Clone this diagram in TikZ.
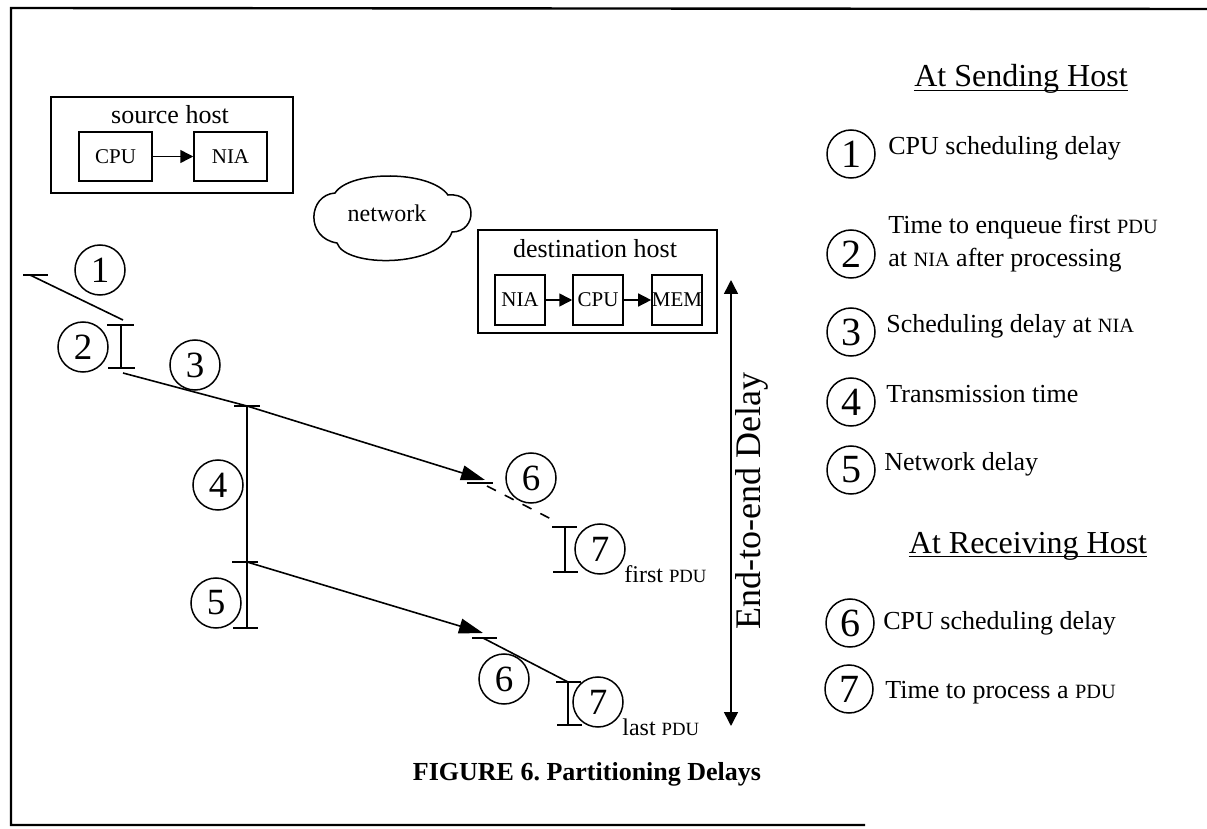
\documentclass[tikz,border=0pt]{standalone}
\usepackage{fontspec}
\setmainfont{Liberation Serif}
\usetikzlibrary{arrows.meta}
\newcommand\smc[1]{\scalebox{0.78}{#1}}
\frenchspacing
\begin{document}
\begin{tikzpicture}[x=0.5pt,y=-0.5pt,
  txt/.style={inner sep=0pt, anchor=base},
  hostbox/.style={draw, line width=0.75pt, inner sep=0pt},
  unit/.style={draw, line width=0.75pt, inner sep=0pt, font=\fontsize{10.5}{12}\selectfont},
  dnum/.style={circle, draw, line width=0.75pt, minimum size=25pt, inner sep=0pt, font=\fontsize{18.5}{20}\selectfont},
  lnum/.style={circle, draw, line width=0.75pt, minimum size=24pt, inner sep=0pt, font=\fontsize{20}{22}\selectfont},
  ltxt/.style={inner sep=0pt, anchor=base west, font=\fontsize{13}{15.5}\selectfont},
  hdr/.style={inner sep=0pt, anchor=base, font=\fontsize{16}{18}\selectfont},
  tl/.style={line width=0.8pt},
  smtip/.style={-{Triangle[length=6.5pt,width=6.5pt]}},
  bigtip/.style={-{Triangle[length=12pt,width=7.5pt]}},
]
\useasboundingbox (0,0) rectangle (1207,829);
% frame
\draw[line width=1.2pt] (1207,9) -- (11,8) -- (11,825) -- (865,825);

% source host
\node[hostbox, minimum width=121pt, minimum height=48pt] (src) at (172,145) {};
\node[txt, font=\fontsize{13}{15}\selectfont] (srclbl) at (170,124) {source host};
\node[unit, minimum width=36.5pt, minimum height=24.5pt] (scpu) at (115.5,156.5) {CPU};
\node[unit, minimum width=36.5pt, minimum height=24.5pt] (snia) at (230.5,156.5) {NIA};
\draw[line width=0.75pt, smtip] (scpu) -- (snia);

% network cloud
\draw[line width=0.75pt] (335,193) .. controls (350,170) and (430,170) .. (448,195)
  .. controls (478,192) and (478,232) .. (452,232)
  .. controls (440,268) and (345,268) .. (337,243)
  .. controls (305,238) and (308,195) .. cycle;
\node[txt, font=\fontsize{12}{14}\selectfont] (net) at (387,222) {network};

% destination host
\node[hostbox, minimum width=119.5pt, minimum height=51.5pt] (dst) at (597.5,281.5) {};
\node[txt, font=\fontsize{13}{15}\selectfont] (dstlbl) at (595,257) {destination host};
\node[unit, minimum size=25pt] (dnia) at (520,300) {NIA};
\node[unit, minimum size=25pt] (dcpu) at (598,300) {CPU};
\node[unit, minimum size=25pt] (dmem) at (677,300) {MEM};
\draw[line width=0.75pt, smtip] (dnia) -- (dcpu);
\draw[line width=0.75pt, smtip] (dcpu) -- (dmem);

% end-to-end arrow
\coordinate (etop) at (731,280);
\coordinate (ebot) at (731,726);
\draw[line width=0.75pt, {Triangle[length=7pt,width=7pt]}-{Triangle[length=7pt,width=7pt]}] (etop) -- (ebot);
\node[txt, rotate=90, font=\fontsize{18}{20}\selectfont] (elbl) at (760,501) {End-to-end Delay};

% timeline
\coordinate (p1) at (30,275);
\coordinate (p1e) at (123,320);
\draw[tl] (23,275) -- (48,275);
\draw[tl] (p1) -- (p1e);
\coordinate (b2t) at (121,325);
\coordinate (b2b) at (121,368);
\draw[tl] (b2t) ++(-14,0) -- ++(27,0);
\draw[tl] (b2b) ++(-13,0) -- ++(27,0);
\draw[tl] (b2t) -- (b2b);
\coordinate (p3) at (123,373);
\coordinate (t4) at (247,406);
\coordinate (t5) at (247,562);
\coordinate (b5) at (247,628);
\draw[tl] (p3) -- (t4);
\draw[tl] (t4) ++(-13,0) -- ++(26,0);
\draw[tl] (t5) ++(-15,0) -- ++(26,0);
\draw[tl] (b5) ++(-14,0) -- ++(25,0);
\draw[tl] (t4) -- (b5);
% first PDU
\coordinate (f6) at (485,480);
\draw[tl, bigtip] (t4) -- (f6);
\draw[tl] (467,483) -- (493,483);
\coordinate (f6s) at (487,486);
\coordinate (f7t) at (565,527);
\coordinate (f7b) at (565,572);
\draw[tl, dashed, dash pattern=on 5pt off 5pt] (f6s) -- (553,520);
\draw[tl] (f7t) ++(-13,0) -- ++(25,0);
\draw[tl] (f7b) ++(-12,0) -- ++(25,0);
\draw[tl] (f7t) -- (f7b);
% last PDU
\coordinate (l6) at (483,633);
\draw[tl, bigtip] (t5) -- (l6);
\draw[tl] (472,638) -- (497,638);
\coordinate (l6s) at (483,638);
\coordinate (l7t) at (568,682);
\coordinate (l7b) at (568,725);
\draw[tl] (l6s) -- (l7t);
\draw[tl] (l7t) ++(-12,0) -- ++(25,0);
\draw[tl] (l7b) ++(-11,0) -- ++(25,0);
\draw[tl] (l7t) -- (l7b);

% diagram circles
\node[dnum] (c1) at (100,270) {1};
\node[dnum] (c2) at (83,347) {2};
\node[dnum] (c3) at (195,365) {3};
\node[dnum] (c4) at (218,485) {4};
\node[dnum] (c5) at (216,603) {5};
\node[dnum] (c6f) at (531,478) {6};
\node[dnum] (c7f) at (600,549) {7};
\node[dnum] (c6l) at (504,679) {6};
\node[dnum] (c7l) at (598,702) {7};
\node[inner sep=0pt, anchor=base west, font=\fontsize{12}{14}\selectfont] (fpdu) at (624,582) {first \smc{PDU}};
\node[inner sep=0pt, anchor=base west, font=\fontsize{12}{14}\selectfont] (lpdu) at (622,735) {last \smc{PDU}};

% legend
\node[hdr] (hs) at (1021,87) {At Sending Host};
\draw[line width=0.6pt] ([yshift=-1.6pt]hs.base west) -- ([yshift=-1.6pt]hs.base east);
\node[lnum] (k1) at (851,154) {1};
\node[ltxt] (k1t) at (888,155) {CPU scheduling delay};
\node[lnum] (k2) at (851,254) {2};
\node[ltxt] (k2t) at (888,234) {Time to enqueue first \smc{PDU}};
\node[ltxt] (k2u) at (888,267) {at \smc{NIA} after processing};
\node[lnum] (k3) at (851,332) {3};
\node[ltxt] (k3t) at (886,333) {Scheduling delay at \smc{NIA}};
\node[lnum] (k4) at (851,402) {4};
\node[ltxt] (k4t) at (886,402) {Transmission time};
\node[lnum] (k5) at (851,470) {5};
\node[ltxt] (k5t) at (884,470) {Network delay};
\node[hdr] (hr) at (1028,553) {At Receiving Host};
\draw[line width=0.6pt] ([yshift=-1.8pt]hr.base west) -- ([yshift=-1.8pt]hr.base east);
\node[lnum] (k6) at (850,623) {6};
\node[ltxt] (k6t) at (883,629) {CPU scheduling delay};
\node[lnum] (k7) at (849,689) {7};
\node[ltxt] (k7t) at (885,698) {Time to process a \smc{PDU}};

% caption
\node[txt, font=\fontsize{13}{15}\selectfont\bfseries] (cap) at (587,780) {FIGURE 6. Partitioning Delays};
\end{tikzpicture}
\end{document}
